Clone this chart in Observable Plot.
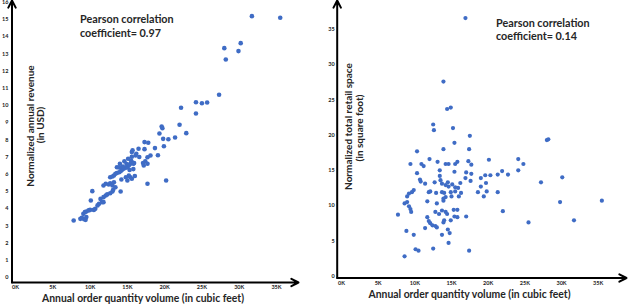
<!DOCTYPE html>
<html>
<head>
<meta charset="utf-8">
<script src="https://cdn.jsdelivr.net/npm/d3@7"></script>
<script src="https://cdn.jsdelivr.net/npm/@observablehq/plot@0.6"></script>
<style>
  body { margin: 0; background: #fff; }
  #wrap { position: relative; width: 631px; height: 307px; overflow: hidden; background: #fff; }
  #wrap svg { position: absolute; top: 0; overflow: visible; }
  .ann { font-family: Lato, "Open Sans", sans-serif; fill: #262626; }
</style>
</head>
<body>
<div id="wrap"></div>
<script>
// Tick values shared by both panels
const volumeTicks = [0, 5, 10, 15, 20, 25, 30, 35];            // thousand cubic feet
const revenueTicks = [0, 1, 2, 3, 4, 5, 6, 7, 8, 9, 10, 11, 12, 13, 14, 15, 16];
const spaceTicks = [0, 5, 10, 15, 20, 25, 30, 35];

// Panel 1: annual order volume (K cubic feet) vs normalized annual revenue (USD)
const revenueVolume = [
  31.7, 35.5, 28.0, 30.2, 29.9, 28.2, 27.3, 24.2, 25.0, 25.7, 24.2, 22.2, 22.0, 22.9,
  19.6, 19.7, 19.3, 19.8, 20.5, 21.4, 19.9, 18.7, 19.1, 18.1, 20.2,
  17.3, 17.8, 16.5, 17.3, 15.7, 15.6, 16.6, 17.7, 17.4, 17.1, 15.9,
  7.8, 8.7, 8.9, 9.2, 9.4, 9.5, 9.1, 9.3, 9.5, 9.8, 10.0, 10.5, 10.7, 10.1,
  11.0, 11.2, 11.6, 11.8, 11.4, 11.8, 12.1, 12.3, 12.7, 13.0, 13.1, 13.4, 14.1,
  11.8, 12.1, 12.5, 12.7, 13.0, 13.2, 12.7, 13.0, 13.2, 13.4, 13.6, 13.9, 14.1,
  14.3, 14.5, 14.8, 15.0, 15.2, 15.4, 15.6, 13.6, 14.0, 15.2, 15.4, 15.6, 15.0,
  14.8, 16.1, 16.2, 15.6, 15.5, 15.8, 17.7, 17.2, 17.7, 10.3,
  14.4, 14.9, 15.1, 14.6, 15.3, 13.9, 14.2, 15.8, 16.0
];
const revenue = [
  15.19, 15.1, 13.33, 13.62, 13.16, 12.67, 10.62, 10.19, 10.13, 10.17, 9.53, 9.87, 8.88, 8.39,
  8.78, 8.68, 8.37, 8.06, 8.04, 8.14, 7.63, 7.52, 7.11, 7.09, 5.64,
  7.87, 7.83, 7.48, 7.46, 7.40, 7.02, 7.00, 6.99, 6.76, 6.65, 6.65,
  3.31, 3.41, 3.47, 3.39, 3.35, 3.51, 3.70, 3.80, 3.84, 3.90, 3.93, 3.93, 3.99, 4.48,
  4.19, 4.28, 4.38, 4.38, 4.57, 4.67, 4.77, 4.83, 4.90, 5.00, 5.10, 5.25, 5.00,
  5.35, 5.45, 5.41, 5.48, 5.35, 5.54, 5.83, 5.87, 5.93, 6.03, 6.07, 6.12, 6.18,
  6.26, 6.32, 6.38, 6.41, 6.51, 6.61, 6.70, 6.41, 6.61, 5.93, 5.83, 5.74, 5.64,
  5.83, 7.09, 7.19, 7.29, 6.80, 6.61, 6.61, 6.51, 5.45, 5.02,
  6.45, 6.60, 6.90, 6.75, 6.25, 6.40, 5.70, 6.30, 5.90
];

// Panel 2: annual order volume (K cubic feet) vs normalized total retail space (sq ft)
const spaceVolume = [
  16.9, 13.9, 14.4, 14.9, 12.5, 12.6, 15.2, 15.4, 13.9, 10.3, 12.0, 17.5, 17.4,
  9.4, 10.9, 11.2, 13.1, 14.2, 14.6, 15.5, 10.3, 13.4, 10.7, 10.8, 12.7, 13.4, 13.5,
  13.7, 11.4, 14.2, 14.6, 15.1, 15.5, 14.5, 9.85, 9.6, 11.9, 12.1, 12.9, 13.7, 14.0,
  14.9, 15.5, 8.95, 9.2, 14.2, 8.6, 8.95, 9.2, 9.4, 9.5, 7.7, 11.7, 13.0, 13.9,
  15.3, 15.8, 13.7, 14.2, 14.4, 12.8, 13.3, 11.7, 11.9, 12.1, 11.4, 12.4, 12.8, 13.0,
  13.9, 14.9, 14.5, 14.75, 13.7, 14.6, 8.85, 9.85, 10.1, 10.5, 12.5, 8.6,
  15.8, 17.3, 17.7, 20.1, 24.1, 24.8, 24.1, 15.4, 17.0, 17.7, 16.9, 17.6, 19.0, 19.6,
  20.3, 21.3, 21.9, 22.7, 19.0, 19.7, 19.8, 19.4, 18.6, 21.3, 16.3, 22.0, 25.5, 17.0,
  15.8, 15.4, 14.0, 17.4,
  27.2, 30.1, 29.8, 31.7, 35.5, 28.0, 28.2,
  16.2, 15.9, 16.0, 15.0, 13.9
];
const space = [
  36.6, 27.6, 23.7, 23.9, 21.5, 20.7, 21.0, 18.9, 18.0, 17.7, 16.6, 19.9, 18.0,
  15.9, 15.9, 15.6, 16.2, 15.9, 15.9, 15.9, 14.6, 15.0, 13.7, 13.4, 13.3, 14.2, 13.6,
  13.1, 13.1, 12.9, 12.7, 13.0, 12.6, 13.3, 12.2, 11.9, 11.9, 12.0, 11.8, 11.9, 11.8,
  11.9, 12.0, 11.3, 11.7, 11.2, 10.3, 10.5, 9.9, 9.5, 9.1, 8.7, 10.6, 10.3, 10.7,
  9.4, 9.4, 9.3, 9.1, 8.8, 9.1, 8.8, 8.35, 7.8, 7.5, 6.8, 7.2, 7.1, 6.9,
  7.6, 7.9, 6.6, 6.1, 5.85, 4.7, 6.4, 5.85, 3.8, 3.6, 3.9, 2.8,
  16.2, 16.3, 15.8, 16.5, 16.6, 15.9, 15.0, 14.8, 14.7, 14.5, 13.9, 13.5, 13.9, 14.3,
  14.3, 14.4, 14.9, 14.4, 12.7, 13.2, 12.0, 11.3, 11.9, 11.9, 11.8, 9.2, 7.6, 8.45,
  8.35, 8.45, 7.9, 3.6,
  13.3, 14.0, 10.5, 7.9, 10.7, 19.3, 19.4,
  13.2, 12.5, 11.3, 11.3, 11.0
];

const DOT = "#3f6cc5";
const INK = "#222";

function panel({xs, ys, xDomain, yDomain, yTicks, marginLeft, marginRight, marginBottom, xPad, yPad, r}) {
  const pts = xs.map((x, i) => ({x, y: ys[i]}));
  return Plot.plot({
    width: 315,
    height: 307,
    marginLeft,
    marginRight,
    marginTop: 0,
    marginBottom,
    style: {fontFamily: "Lato, 'Open Sans', sans-serif", fontSize: "5.5px", fontWeight: "bold", color: INK, background: "transparent", overflow: "visible"},
    x: {domain: xDomain, ticks: volumeTicks, tickFormat: d => `${d}K`, tickSize: 0, tickPadding: xPad, label: null},
    y: {domain: yDomain, ticks: yTicks, tickFormat: d => `${d}`, tickSize: 0, tickPadding: yPad, label: null},
    marks: [
      Plot.dot(pts, {x: "x", y: "y", r, fill: DOT}),
      // axis lines ending in arrowheads
      Plot.arrow([0], {x1: xDomain[0], y1: yDomain[0], x2: xDomain[1], y2: yDomain[0], stroke: "#000", strokeWidth: 2, headLength: 6, headAngle: 55}),
      Plot.arrow([0], {x1: xDomain[0], y1: yDomain[0], x2: xDomain[0], y2: yDomain[1], stroke: "#000", strokeWidth: 2, headLength: 6, headAngle: 55})
    ]
  });
}

function addText(svg, {ann, coef, yTitle, yUnit, yTitlePos, yUnitPos, xTitlePos}) {
  const g = d3.select(svg).append("g").attr("class", "ann");
  const a = g.append("text").attr("text-anchor", "start").attr("font-size", 10.8).attr("font-weight", "bold");
  a.append("tspan").attr("x", ann[0]).attr("y", ann[1]).text("Pearson correlation");
  a.append("tspan").attr("x", ann[0]).attr("y", ann[1] + 13.5).text(`coefficient= ${coef}`);

  g.append("text")
    .attr("transform", `translate(${yTitlePos[0]},${yTitlePos[1]}) rotate(-90)`)
    .attr("text-anchor", "middle").attr("font-size", 10).attr("font-weight", "bold")
    .text(yTitle);
  g.append("text")
    .attr("transform", `translate(${yUnitPos[0]},${yUnitPos[1]}) rotate(-90)`)
    .attr("text-anchor", "middle").attr("font-size", 10)
    .text(yUnit);

  const xt = g.append("text").attr("x", xTitlePos[0]).attr("y", xTitlePos[1])
    .attr("text-anchor", "middle").attr("font-size", 10.4);
  xt.append("tspan").attr("font-weight", "bold").text("Annual order quantity volume");
  xt.append("tspan").text(" (in cubic feet)");
}

const wrap = document.getElementById("wrap");

const left = panel({
  xs: revenueVolume, ys: revenue,
  xDomain: [-0.47, 37.95], yDomain: [-0.29, 16.1], yTicks: revenueTicks,
  marginLeft: 11.5, marginRight: 17, marginBottom: 25, xPad: 3, yPad: 3.5, r: 2.3
});
left.style.left = "0px";
addText(left, {
  ann: [80, 23], coef: "0.97",
  yTitle: "Normalized annual revenue", yUnit: "(in USD)",
  yTitlePos: [34, 126], yUnitPos: [43.5, 125], xTitlePos: [143, 302]
});
wrap.appendChild(left);

const right = panel({
  xs: spaceVolume, ys: space,
  xDomain: [-0.586, 38.86], yDomain: [-0.28, 39.1], yTicks: spaceTicks,
  marginLeft: 20.7, marginRight: 5, marginBottom: 29.5, xPad: 3.5, yPad: 2.5, r: 2.1
});
right.style.left = "316px";
addText(right, {
  ann: [180, 26.5], coef: "0.14",
  yTitle: "Normalized total retail space", yUnit: "(in square foot)",
  yTitlePos: [35.5, 126.5], yUnitPos: [47, 128], xTitlePos: [153.5, 298]
});
wrap.appendChild(right);
</script>
</body>
</html>
